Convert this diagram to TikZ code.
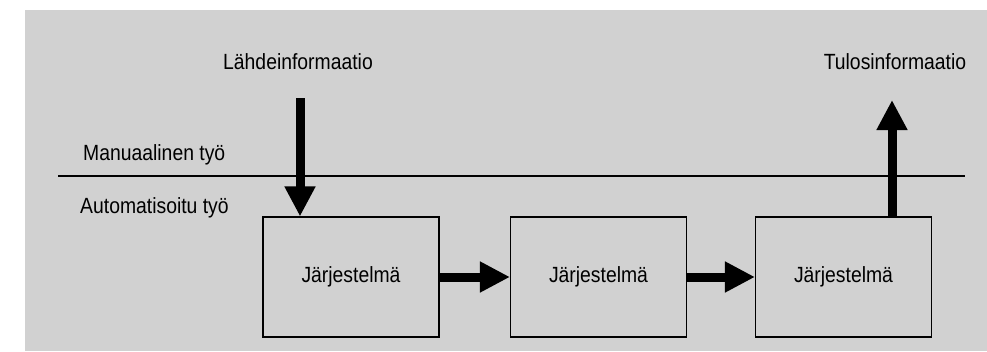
\documentclass[tikz,border=0pt]{standalone}
\usepackage{fontspec}
\setmainfont[FakeStretch=0.88]{Liberation Sans}
\usetikzlibrary{arrows.meta}
\begin{document}
\begin{tikzpicture}[x=1pt,y=-1pt,
  lbl/.style={font=\fontsize{22}{26}\selectfont, inner sep=0pt},
  sysbox/.style={draw=black, line width=1.1pt, minimum width=176pt, minimum height=120pt, inner sep=0pt, font=\fontsize{22}{26}\selectfont},
  flow/.style={line width=9pt, -{Triangle[length=30pt,width=29pt]}},
  sep/.style={line width=1.4pt}]
\useasboundingbox (0,0) rectangle (987,351);
\fill[black!18] (25,10) rectangle (987,351);
\node[lbl, anchor=base] (src) at (298,69) {Lähdeinformaatio};
\node[lbl, anchor=base] (dst) at (895,69) {Tulosinformaatio};
\node[lbl, anchor=base west] (man) at (83,160) {Manuaalinen työ};
\node[lbl, anchor=base west] (auto) at (80,213) {Automatisoitu työ};
\coordinate (sepL) at (58,176);
\coordinate (sepR) at (965,176);
\draw[sep] (sepL) -- (sepR);
\node[sysbox] (b1) at (351,277) {Järjestelmä};
\node[sysbox] (b2) at (598.5,277) {Järjestelmä};
\node[sysbox] (b3) at (843.5,277) {Järjestelmä};
\coordinate (inTop) at (300,98);
\coordinate (outTop) at (892,100);
\draw[flow] (inTop) -- (inTop |- b1.north);
\draw[flow] (b1.east) -- (b2.west);
\draw[flow] (b2.east) -- (b3.west);
\draw[flow] (outTop |- b3.north) -- (outTop);
\end{tikzpicture}
\end{document}
